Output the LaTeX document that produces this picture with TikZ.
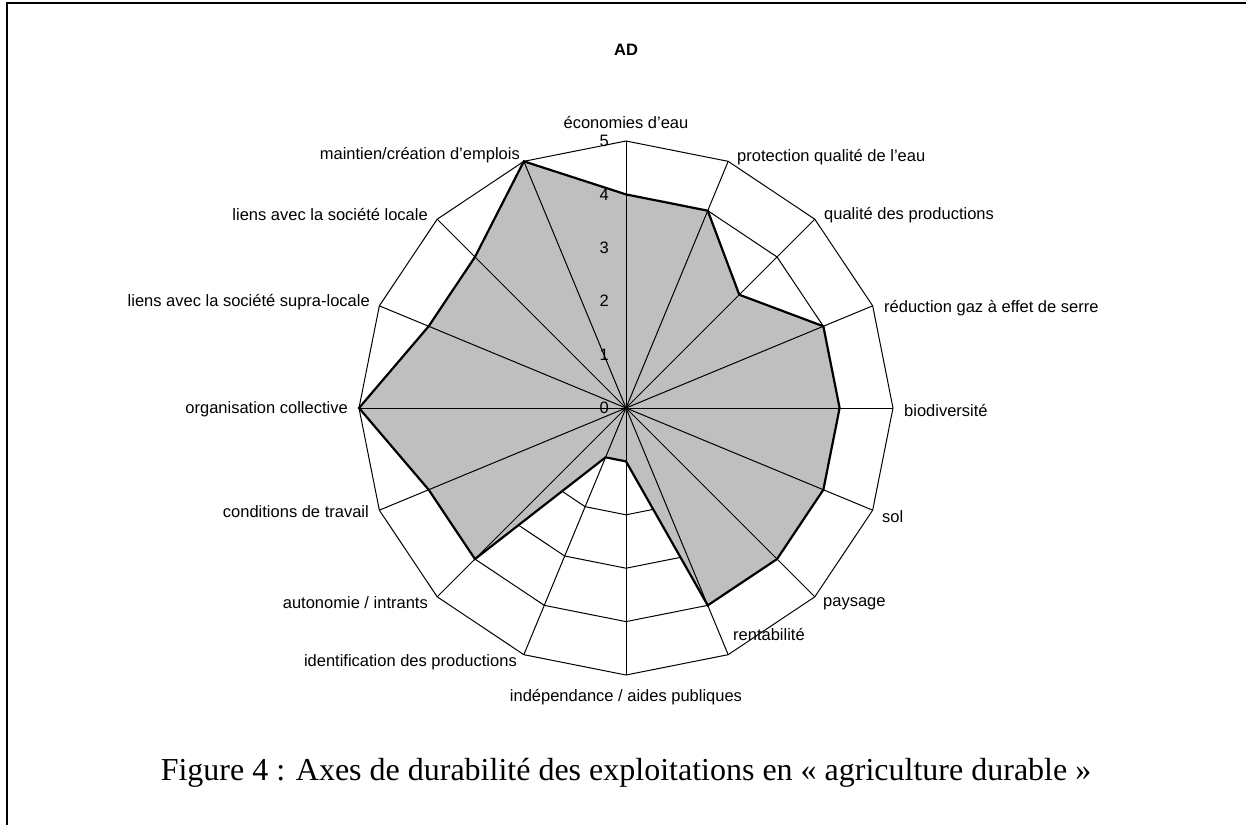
\documentclass[tikz,border=0pt]{standalone}
\usepackage{fontspec}
\setmainfont{Liberation Sans}
\newfontfamily\capfont{Liberation Serif}
\begin{document}
\begin{tikzpicture}[x=1pt,y=-1pt,
  lbl/.style={font=\fontsize{16.5}{18}\selectfont, inner sep=0pt},
  ticklbl/.style={font=\fontsize{16.5}{18}\selectfont, inner sep=0pt, anchor=east},
  gridline/.style={line width=1pt, black},
  dataline/.style={line width=2.2pt, black, line join=miter},
  datafill/.style={fill=black!25},
  frameline/.style={line width=2pt, black}]
\useasboundingbox (0,0) rectangle (1246,825);
\fill[white] (0,0) rectangle (1246,825);
\draw[frameline] (7,825) -- (7,3) -- (1246,3);

\node[font=\bfseries\fontsize{16.5}{18}\selectfont, inner sep=0pt] (title) at (626,50) {AD};

\begin{scope}[shift={(626,408)}]
  % rings
  \foreach \v in {1,...,5} {
    \draw[gridline] (-90:\v*53.4) \foreach \k in {1,...,15} { -- (-90+22.5*\k:\v*53.4) } -- cycle;
  }
  % filled data polygon
  \fill[datafill] (-90:213.6) -- (-67.5:213.6) -- (-45:160.2) -- (-22.5:213.6)
    -- (0:213.6) -- (22.5:213.6) -- (45:213.6) -- (67.5:213.6)
    -- (90:53.4) -- (112.5:53.4) -- (135:213.6) -- (157.5:213.6)
    -- (180:267) -- (202.5:213.6) -- (225:213.6) -- (247.5:267) -- cycle;
  % spokes
  \foreach \k in {0,...,15} { \draw[gridline] (0,0) -- (-90+22.5*\k:267); }
  % data outline
  \draw[dataline] (-90:213.6) -- (-67.5:213.6) -- (-45:160.2) -- (-22.5:213.6)
    -- (0:213.6) -- (22.5:213.6) -- (45:213.6) -- (67.5:213.6)
    -- (90:53.4) -- (112.5:53.4) -- (135:213.6) -- (157.5:213.6)
    -- (180:267) -- (202.5:213.6) -- (225:213.6) -- (247.5:267) -- cycle;
  % tick labels
  \foreach \v in {0,...,5} { \node[ticklbl] (t\v) at (-17,-\v*53.4) {\v}; }
\end{scope}

% axis labels
\node[lbl, anchor=south] (l0) at (626,129) {économies d'eau};
\node[lbl, anchor=west] (l1) at (737,157) {protection qualité de l'eau};
\node[lbl, anchor=west] (l2) at (824,215) {qualité des productions};
\node[lbl, anchor=west] (l3) at (884,308) {réduction gaz à effet de serre};
\node[lbl, anchor=west] (l4) at (904,410) {biodiversité};
\node[lbl, anchor=west] (l5) at (882,517) {sol};
\node[lbl, anchor=west] (l6) at (823,604) {paysage};
\node[lbl, anchor=west] (l7) at (733,634) {rentabilité};
\node[lbl, anchor=center] (l8) at (626,697) {indépendance / aides publiques};
\node[lbl, anchor=east] (l9) at (517,662) {identification des productions};
\node[lbl, anchor=east] (l10) at (428,603) {autonomie / intrants};
\node[lbl, anchor=east] (l11) at (369,512) {conditions de travail};
\node[lbl, anchor=east] (l12) at (348,409) {organisation collective};
\node[lbl, anchor=east] (l13) at (370,302) {liens avec la société supra-locale};
\node[lbl, anchor=east] (l14) at (428,215) {liens avec la société locale};
\node[lbl, anchor=east] (l15) at (520,155) {maintien/création d'emplois};

\node[font=\capfont\fontsize{32}{36}\selectfont, inner sep=0pt, anchor=base] (cap) at (626,780)
  {Figure 4 : Axes de durabilité des exploitations en « agriculture durable »};
\end{tikzpicture}
\end{document}
